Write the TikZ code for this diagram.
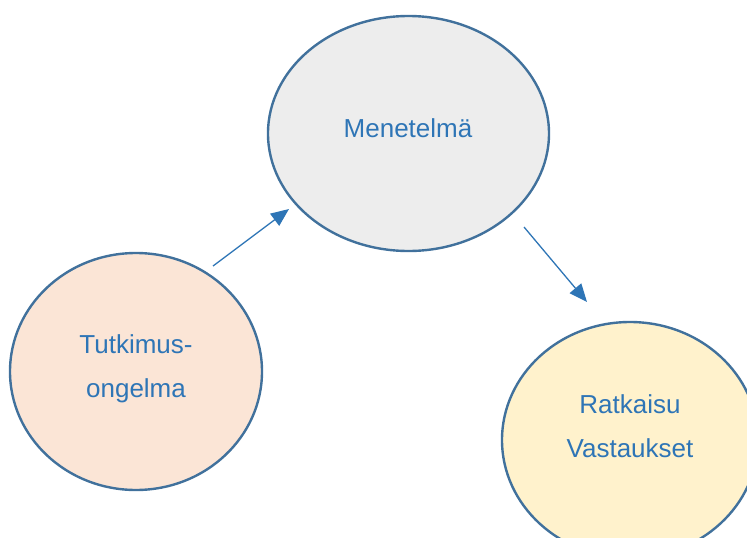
\documentclass[tikz,border=0pt]{standalone}
\usepackage{fontspec}
\setmainfont{Liberation Sans}
\usetikzlibrary{shapes.geometric,arrows.meta}
\definecolor{txtblue}{HTML}{2E75B6}
\definecolor{edgeblue}{HTML}{41719C}
\definecolor{fillgray}{HTML}{EDEDED}
\definecolor{fillpeach}{HTML}{FBE5D6}
\definecolor{fillyellow}{HTML}{FFF2CC}
\tikzset{
  bubble/.style={ellipse, draw=edgeblue, line width=2.4pt, inner sep=0pt},
  lbl/.style={text=txtblue, font=\fontsize{26}{44}\selectfont, align=center, inner sep=0pt},
  conn/.style={draw=txtblue, line width=1.3pt, -{Triangle[length=18pt,width=15pt]}}
}
\begin{document}
\begin{tikzpicture}[x=1pt,y=-1pt]
\useasboundingbox (0,0) rectangle (747,538);
\clip (0,0) rectangle (747,538);
\node[bubble, fill=fillgray, minimum width=281pt, minimum height=235pt] (m) at (408.5,133.5) {};
\node[bubble, fill=fillpeach, minimum width=252pt, minimum height=237pt] (t) at (136,371.5) {};
\node[bubble, fill=fillyellow, minimum width=256pt, minimum height=236pt] (r) at (630,440) {};
\node[lbl] (mt) at (408,128) {Menetelmä};
\node[lbl] (tt) at (136,369) {Tutkimus-\\ongelma};
\node[lbl] (rt) at (630,426) {Ratkaisu\\Vastaukset};
\coordinate (a1s) at (213,266);
\coordinate (a1e) at (289,209);
\coordinate (a2s) at (524,227);
\coordinate (a2e) at (587,302);
\draw[conn] (a1s) -- (a1e);
\draw[conn] (a2s) -- (a2e);
\end{tikzpicture}
\end{document}
